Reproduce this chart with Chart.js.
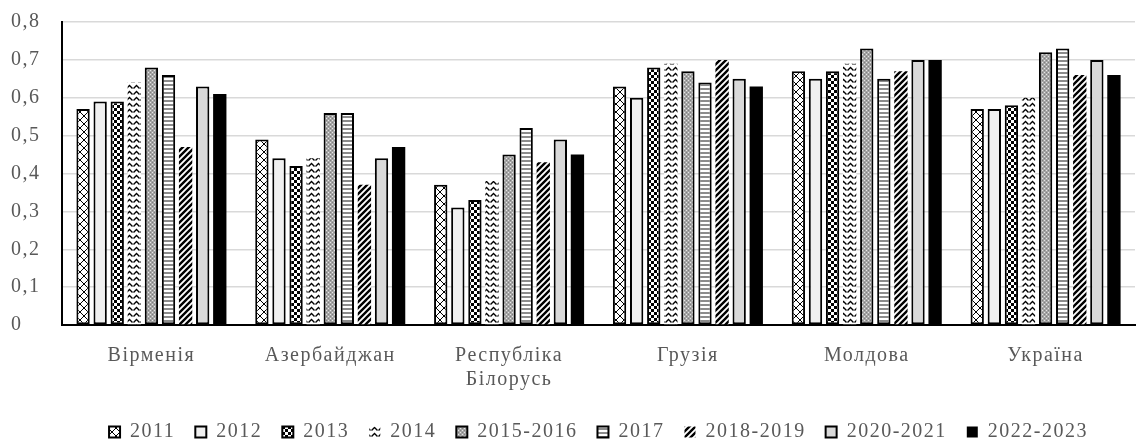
<!DOCTYPE html>
<html>
<head>
<meta charset="utf-8">
<script src="https://cdn.jsdelivr.net/npm/chart.js@4"></script>
<style>
  html, body { margin: 0; padding: 0; background: #fff; }
  #wrap { width: 1138px; height: 442px; position: relative; }
</style>
</head>
<body>
<div id="wrap"><canvas id="c"></canvas></div>
<script>
// ── DATA ──────────────────────────────────────────────────────
const categories = ['Вірменія', 'Азербайджан', ['Республіка', 'Білорусь'], 'Грузія', 'Молдова', 'Україна'];
const seriesNames = ['2011', '2012', '2013', '2014', '2015-2016', '2017', '2018-2019', '2020-2021', '2022-2023'];

const v2011 = [0.57, 0.49, 0.37, 0.63, 0.67, 0.57];
const v2012 = [0.59, 0.44, 0.31, 0.60, 0.65, 0.57];
const v2013 = [0.59, 0.42, 0.33, 0.68, 0.67, 0.58];
const v2014 = [0.64, 0.44, 0.38, 0.69, 0.69, 0.60];
const v2015 = [0.68, 0.56, 0.45, 0.67, 0.73, 0.72];
const v2017 = [0.66, 0.56, 0.52, 0.64, 0.65, 0.73];
const v2018 = [0.47, 0.37, 0.43, 0.70, 0.67, 0.66];
const v2020 = [0.63, 0.44, 0.49, 0.65, 0.70, 0.70];
const v2022 = [0.61, 0.47, 0.45, 0.63, 0.70, 0.66];

const yTicks = [0, 0.1, 0.2, 0.3, 0.4, 0.5, 0.6, 0.7, 0.8];

// ── PATTERNS ──────────────────────────────────────────────────
const ctx = document.getElementById('c').getContext('2d');

function tile(w, h, bg, draw) {
  const c = document.createElement('canvas');
  c.width = w; c.height = h;
  const g = c.getContext('2d');
  g.fillStyle = bg;
  g.fillRect(0, 0, w, h);
  draw(g, w, h);
  return ctx.createPattern(c, 'repeat');
}

const pCross = tile(8, 8, '#fff', (g) => {
  g.strokeStyle = '#000'; g.lineWidth = 1;
  g.beginPath();
  g.moveTo(0, 0); g.lineTo(8, 8);
  g.moveTo(8, 0); g.lineTo(0, 8);
  g.stroke();
});
const pChecker = tile(6, 6, '#fff', (g) => {
  g.fillStyle = '#000';
  g.fillRect(0, 0, 3, 3);
  g.fillRect(3, 3, 3, 3);
});
const pWave = tile(7, 6, '#fff', (g) => {
  g.strokeStyle = '#000'; g.lineWidth = 1.4;
  g.beginPath();
  g.moveTo(0.5, 4.5); g.lineTo(3.5, 1.5); g.lineTo(6.5, 4.5);
  g.stroke();
});
const pGrayDots = tile(4, 4, '#a6a6a6', (g) => {
  g.fillStyle = '#e6e6e6';
  g.fillRect(0, 0, 1, 1);
  g.fillRect(2, 2, 1, 1);
  g.fillStyle = '#7f7f7f';
  g.fillRect(2, 0, 1, 1);
  g.fillRect(0, 2, 1, 1);
});
const pHStripe = tile(4, 4, '#fff', (g) => {
  g.fillStyle = '#8c8c8c';
  g.fillRect(0, 0, 4, 2);
});
const pDiag = tile(6, 6, '#fff', (g) => {
  g.strokeStyle = '#000'; g.lineWidth = 2.4;
  g.beginPath();
  g.moveTo(-1, 7); g.lineTo(7, -1);
  g.moveTo(-4, 4); g.lineTo(4, -4);
  g.moveTo(2, 10); g.lineTo(10, 2);
  g.stroke();
});

const fills   = [pCross, '#f0f0f0', pChecker, pWave, pGrayDots, pHStripe, pDiag, '#d9d9d9', '#000'];
const borders = [2, 2, 2, 0, 2, 2, 0, 2, 0];
const values  = [v2011, v2012, v2013, v2014, v2015, v2017, v2018, v2020, v2022];

const datasets = seriesNames.map((name, i) => ({
  label: name,
  data: values[i],
  backgroundColor: fills[i],
  borderColor: '#000',
  borderWidth: borders[i],
  borderSkipped: false,
  categoryPercentage: 0.86,
  barPercentage: 0.78,
}));

// letter spacing for the wide serif text of the original
const spacing = {
  id: 'spacing',
  beforeLayout: (c) => { c.ctx.letterSpacing = '1.5px'; },
  beforeDraw:   (c) => { c.ctx.letterSpacing = '1.5px'; },
};

// ── CHART ─────────────────────────────────────────────────────
const font = { family: '"Liberation Serif", "Times New Roman", serif', size: 20 };

new Chart(ctx, {
  type: 'bar',
  data: { labels: categories, datasets },
  plugins: [spacing],
  options: {
    responsive: true, maintainAspectRatio: false, animation: false,
    devicePixelRatio: 1,
    layout: { padding: { top: 22, right: 3, left: 11, bottom: -10 } },
    plugins: {
      tooltip: { enabled: false },
      legend: {
        position: 'bottom',
        fullSize: false,
        labels: { color: '#595959', font, boxWidth: 11, boxHeight: 11, padding: 20 },
      },
    },
    scales: {
      x: {
        grid: { display: false, drawTicks: false },
        border: { color: '#000', width: 2 },
        ticks: { color: '#595959', font, padding: 19, maxRotation: 0 },
        afterFit: (s) => { s.height = 77; },
      },
      y: {
        min: 0, max: 0.8,
        afterBuildTicks: (s) => { s.ticks = yTicks.map(v => ({ value: v })); },
        afterFit: (s) => { s.width = 51; },
        grid: { color: '#d9d9d9', lineWidth: 1.5, drawTicks: false },
        border: { color: '#000', width: 2 },
        ticks: {
          color: '#595959', font, padding: 0, crossAlign: 'far',
          callback: v => v === 0 ? '0' : v.toFixed(1).replace('.', ','),
        },
      },
    },
  },
});
</script>
</body>
</html>
